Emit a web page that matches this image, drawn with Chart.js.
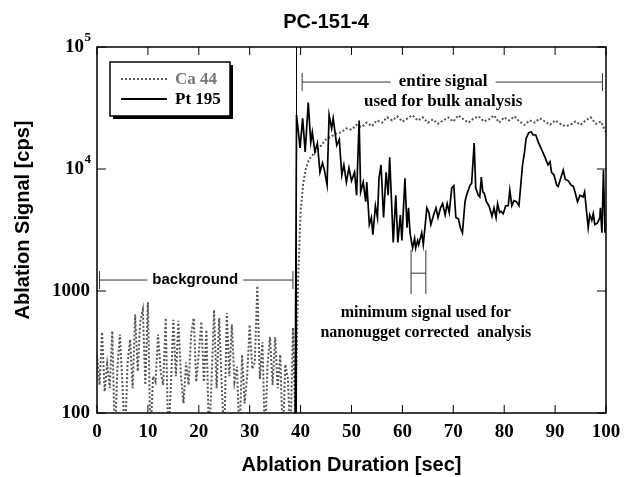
<!DOCTYPE html>
<html lang="en">
<head>
    <meta charset="UTF-8">
    <title>PC-151-4</title>
    <script src="https://cdn.jsdelivr.net/npm/chart.js"></script>
    <style>
        body { margin: 0; background: #fff; }
    </style>
</head>
<body>
    <canvas id="signalChart" width="624" height="477"></canvas>
    <script>
        // tick values
        const xTicks = [0, 10, 20, 30, 40, 50, 60, 70, 80, 90, 100];
        const yTicks = [100, 1000, 10000, 100000];

        // Ca 44 background part, every 0.5 sec from 0 to 38.5
        const caBackground = [
            300, 170, 460, 150, 250, 160, 470, 60, 230, 440,
            170, 60, 250, 400, 160, 640, 220, 560, 700, 170,
            810, 60, 200, 180, 440, 220, 170, 600, 60, 160,
            580, 200, 570, 200, 120, 260, 170, 440, 600, 180,
            310, 560, 180, 480, 60, 180, 700, 160, 600, 170,
            60, 660, 200, 530, 180, 240, 60, 300, 120, 200,
            530, 230, 260, 1100, 190, 380, 60, 250, 420, 170,
            420, 160, 300, 60, 250, 190, 60, 500
        ];
        const caRiseTime = [39, 39.5, 40, 40.5, 41, 41.5, 42];
        const caRise = [80, 1200, 4500, 7500, 10000, 11500, 12500];
        // Ca 44 after onset, every 1 sec from 43 to 100
        const caPlateau = [
            14000, 15500, 17500, 18500, 19500, 20000, 21500, 21000, 23000, 22000,
            24000, 22500, 25000, 24000, 26500, 25000, 27000, 24500, 26000, 27500,
            25000, 26500, 24000, 25500, 23500, 25000, 26500, 24500, 27500, 25500,
            24000, 26000, 27000, 24500, 25500, 27500, 24000, 26500, 25000, 27000,
            24500, 23000, 25000, 24000, 26000, 24500, 23000, 25000, 23500, 22500,
            23000, 24500, 23000, 25000, 26500, 23500, 24500, 20000
        ];

        const ptTime = [
            38.9, 39.2, 39.9, 40.4, 40.9, 41.5, 42.0, 42.3, 42.8, 43.3,
            43.8, 44.3, 44.7, 45.2, 45.6, 46.1, 46.4, 47.1, 47.6, 48.1,
            48.5, 49.0, 49.5, 50.0, 50.6, 51.0, 51.5, 51.8, 52.3, 52.8,
            53.0, 53.5, 53.9, 54.2, 54.7, 55.1, 55.4, 55.8, 56.3, 56.8,
            57.2, 57.5, 58.0, 58.2, 58.7, 59.1, 59.6, 59.9, 60.5, 60.9,
            61.2, 61.5, 62.0, 62.4, 62.6, 63.0, 63.2, 63.8, 64.1, 64.4,
            64.8, 65.2, 65.6, 66.2, 66.6, 67.0, 67.5, 67.9, 68.4, 68.8,
            69.2, 69.7, 70.1, 70.5, 71.0, 71.4, 71.8, 72.3, 72.6, 73.3,
            73.6, 74.1, 74.4, 74.9, 75.2, 75.5, 75.8, 76.1, 76.5, 77.0,
            77.4, 77.6, 78.0, 78.4, 78.7, 79.1, 79.4, 79.8, 80.3, 80.8,
            81.1, 81.5, 81.9, 82.4, 82.9, 83.6, 84.0, 84.3, 84.8, 85.3,
            85.7, 86.2, 86.7, 87.4, 88.0, 88.6, 89.0, 89.3, 89.8, 90.3,
            90.6, 91.1, 91.6, 92.0, 92.6, 93.1, 93.6, 93.9, 94.4, 94.9,
            95.5, 95.8, 96.2, 96.5, 96.8, 97.2, 97.5, 97.8, 98.3, 98.8,
            98.9, 99.2, 99.5, 99.8
        ];
        const ptSignal = [
            50, 27700, 14900, 26000, 13800, 35000, 16600, 20000, 13800, 16300,
            9400, 11200, 9700, 7400, 27700, 21500, 26000, 15700, 17500, 8900,
            10800, 7800, 10200, 8000, 9400, 6100, 25000, 6500, 7800, 5400,
            7800, 3500, 4000, 2900, 5000, 4000, 8400, 10800, 4000, 9400,
            6100, 12500, 4000, 2500, 6100, 2500, 4200, 2600, 8400, 3300,
            4800, 3000, 2250, 2700, 2250, 2600, 2400, 3000, 2400, 3200,
            4800, 4400, 3500, 4300, 4800, 4000, 4800, 5200, 4200, 5200,
            4400, 7000, 7300, 4000, 3900, 3300, 3000, 5400, 6100, 7400,
            7600, 16300, 7000, 6100, 5900, 8600, 6500, 6300, 5400, 5000,
            4400, 4100, 4800, 4000, 5200, 4400, 4500, 4300, 5000, 5000,
            6700, 5000, 5500, 5400, 5000, 10800, 13800, 17800, 19800, 20200,
            19000, 19000, 16600, 14300, 12500, 10800, 11500, 9400, 8900, 7400,
            7200, 8400, 9800, 8200, 8000, 7400, 7200, 6500, 5400, 6100,
            5900, 6500, 4400, 3300, 4200, 3800, 4300, 3500, 3600, 4000,
            4800, 3000, 9800, 3000
        ];

        const onsetTime = 39.2;

        // build Ca points
        const caPoints = [];
        caBackground.forEach((v, i) => caPoints.push({ x: i * 0.5, y: v }));
        caRiseTime.forEach((t, i) => caPoints.push({ x: t, y: caRise[i] }));
        caPlateau.forEach((v, i) => caPoints.push({ x: 43 + i, y: v }));
        const ptPoints = ptTime.map((t, i) => ({ x: t, y: ptSignal[i] }));

        const serif = '"Liberation Serif", "Times New Roman", serif';
        const sans = '"Liberation Sans", Arial, sans-serif';

        function bracketH(ctx, x1, x2, y, gapL, gapR) {
            ctx.beginPath();
            ctx.moveTo(x1, y - 9); ctx.lineTo(x1, y + 9);
            ctx.moveTo(x2, y - 9); ctx.lineTo(x2, y + 9);
            ctx.moveTo(x1, y); ctx.lineTo(gapL, y);
            ctx.moveTo(gapR, y); ctx.lineTo(x2, y);
            ctx.stroke();
        }

        const decor = {
            id: 'decor',
            afterDatasetsDraw(chart) {
                const ctx = chart.ctx;
                const a = chart.chartArea;
                const xs = chart.scales.x, ys = chart.scales.y;
                ctx.save();

                // onset marker
                ctx.strokeStyle = '#000';
                ctx.lineWidth = 1;
                const ox = xs.getPixelForValue(onsetTime);
                ctx.beginPath(); ctx.moveTo(ox, a.top); ctx.lineTo(ox, a.bottom); ctx.stroke();

                // frame
                ctx.lineWidth = 1.5;
                ctx.strokeRect(a.left, a.top, a.right - a.left, a.bottom - a.top);

                // inward ticks
                ctx.lineWidth = 1;
                xTicks.forEach(t => {
                    const px = xs.getPixelForValue(t);
                    ctx.beginPath();
                    ctx.moveTo(px, a.bottom); ctx.lineTo(px, a.bottom - 8);
                    ctx.moveTo(px, a.top); ctx.lineTo(px, a.top + 8);
                    ctx.stroke();
                });
                yTicks.forEach(v => {
                    const py = ys.getPixelForValue(v);
                    ctx.beginPath();
                    ctx.moveTo(a.left, py); ctx.lineTo(a.left + 9, py);
                    ctx.moveTo(a.right, py); ctx.lineTo(a.right - 9, py);
                    ctx.stroke();
                });

                // y tick labels
                ctx.fillStyle = '#000';
                ctx.textBaseline = 'middle';
                yTicks.forEach(v => {
                    const py = ys.getPixelForValue(v);
                    if (v >= 10000) {
                        ctx.font = 'bold 13px ' + serif;
                        ctx.textAlign = 'right';
                        ctx.fillText(String(Math.log10(v)), a.left - 6, py - 9);
                        ctx.font = 'bold 19px ' + serif;
                        ctx.fillText('10', a.left - 13, py);
                    } else {
                        ctx.font = 'bold 19px ' + serif;
                        ctx.textAlign = 'right';
                        ctx.fillText(String(v), a.left - 7, py);
                    }
                });

                // title and axis titles
                ctx.textAlign = 'center';
                ctx.font = 'bold 20px ' + sans;
                ctx.fillText('PC-151-4', 326, 22);
                ctx.fillText('Ablation Duration [sec]', (a.left + a.right) / 2, 465);
                ctx.save();
                ctx.translate(23, 220);
                ctx.rotate(-Math.PI / 2);
                ctx.fillText('Ablation Signal [cps]', 0, 0);
                ctx.restore();

                // legend
                ctx.fillStyle = '#000';
                ctx.fillRect(113, 65, 120, 54);
                ctx.fillStyle = '#fff';
                ctx.fillRect(110, 62, 120, 54);
                ctx.lineWidth = 1.5;
                ctx.strokeRect(110, 62, 120, 54);
                ctx.lineWidth = 2;
                ctx.strokeStyle = '#555';
                ctx.setLineDash([2, 2]);
                ctx.beginPath(); ctx.moveTo(121, 79); ctx.lineTo(167, 79); ctx.stroke();
                ctx.setLineDash([]);
                ctx.strokeStyle = '#000';
                ctx.beginPath(); ctx.moveTo(121, 99); ctx.lineTo(167, 99); ctx.stroke();
                ctx.textAlign = 'left';
                ctx.font = 'bold 17px ' + serif;
                ctx.fillStyle = '#777';
                ctx.fillText('Ca 44', 175, 80);
                ctx.fillStyle = '#000';
                ctx.fillText('Pt 195', 175, 100);

                // background bracket
                ctx.lineWidth = 1;
                ctx.strokeStyle = '#333';
                const by = ys.getPixelForValue(1230);
                ctx.font = 'bold 15px ' + sans;
                ctx.textAlign = 'center';
                const bx = xs.getPixelForValue(19.3);
                const bw = ctx.measureText('background').width;
                bracketH(ctx, xs.getPixelForValue(0.5), xs.getPixelForValue(38.5), by, bx - bw / 2 - 5, bx + bw / 2 + 5);
                ctx.fillStyle = '#000';
                ctx.fillText('background', bx, by);

                // entire signal bracket
                const ey = ys.getPixelForValue(51600);
                const ex = xs.getPixelForValue(68);
                ctx.font = 'bold 17px ' + serif;
                const ew = ctx.measureText('entire signal').width;
                bracketH(ctx, xs.getPixelForValue(40.3), xs.getPixelForValue(99.3), ey, ex - ew / 2 - 8, ex + ew / 2 + 8);
                ctx.fillText('entire signal', ex, ey);
                ctx.fillText('used for bulk analysis', ex, ys.getPixelForValue(36000));

                // minimum bracket
                const m1 = xs.getPixelForValue(61.7), m2 = xs.getPixelForValue(64.6);
                const mt = ys.getPixelForValue(2170), mb = ys.getPixelForValue(945);
                const mm = ys.getPixelForValue(1400);
                ctx.beginPath();
                ctx.moveTo(m1, mt); ctx.lineTo(m1, mb);
                ctx.moveTo(m2, mt); ctx.lineTo(m2, mb);
                ctx.moveTo(m1, mm); ctx.lineTo(m2, mm);
                ctx.stroke();
                ctx.font = 'bold 16px ' + serif;
                const mx = xs.getPixelForValue(64.6);
                ctx.fillText('minimum signal used for', mx, 313);
                ctx.fillText('nanonugget corrected  analysis', mx, 333);

                ctx.restore();
            }
        };

        new Chart(document.getElementById('signalChart'), {
            type: 'line',
            data: {
                datasets: [
                    {
                        label: 'Pt 195',
                        data: ptPoints,
                        borderColor: '#000',
                        borderWidth: 1.7,
                        pointRadius: 0,
                        tension: 0
                    },
                    {
                        label: 'Ca 44',
                        data: caPoints,
                        borderColor: '#555',
                        borderWidth: 2,
                        borderDash: [2, 2],
                        pointRadius: 0,
                        tension: 0
                    }
                ]
            },
            options: {
                responsive: false,
                animation: false,
                layout: { padding: { top: 47, right: 18, left: 0, bottom: 0 } },
                plugins: { legend: { display: false }, title: { display: false }, tooltip: { enabled: false } },
                scales: {
                    x: {
                        type: 'linear',
                        min: 0,
                        max: 100,
                        afterBuildTicks: s => { s.ticks = xTicks.map(v => ({ value: v })); },
                        afterFit: s => { s.height = 64; s.paddingLeft = 0; s.paddingRight = 0; },
                        grid: { display: false, drawTicks: false },
                        border: { display: false },
                        ticks: {
                            padding: 8,
                            color: '#000',
                            maxRotation: 0,
                            font: { family: serif, weight: 'bold', size: 19 }
                        }
                    },
                    y: {
                        type: 'logarithmic',
                        min: 100,
                        max: 100000,
                        afterBuildTicks: s => { s.ticks = yTicks.map(v => ({ value: v })); },
                        afterFit: s => { s.width = 97; s.paddingTop = 0; s.paddingBottom = 0; },
                        grid: { display: false, drawTicks: false },
                        border: { display: false },
                        ticks: { display: false }
                    }
                }
            },
            plugins: [decor]
        });
    </script>
</body>
</html>
